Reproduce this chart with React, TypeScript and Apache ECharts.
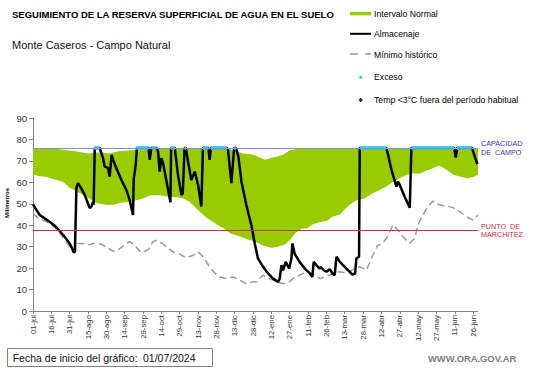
import React, { useEffect, useRef } from "react";
import * as echarts from "echarts";

// Etiquetas del eje X (cada 15 días desde 01-jul-2024)
const xLabels = [
  "01-jul", "16-jul", "31-jul", "15-ago", "30-ago", "14-sep", "29-sep", "14-oct", "29-oct",
  "13-nov", "28-nov", "13-dic", "28-dic", "12-ene", "27-ene", "11-feb", "26-feb", "13-mar",
  "28-mar", "12-abr", "27-abr", "12-may", "27-may", "11-jun", "26-jun",
];

const capacidadCampo = 76;
const puntoMarchitez = 37.5;

// Intervalo normal: borde superior [día, mm]
const normalUpper: [number, number][] = [
  [0, 76], [20, 75.5], [35, 74.5], [45, 73.5], [55, 74], [62, 73.5], [70, 74.5], [80, 75],
  [90, 75.3], [100, 75.6], [140, 75.7], [160, 75.5], [166, 74.5], [172, 73.5], [180, 73],
  [186, 71.5], [190, 70.5], [195, 71.5], [200, 72], [205, 73], [210, 75], [218, 75.8],
  [240, 75.8], [364, 76],
];

// Intervalo normal: borde inferior [día, mm]
const normalLower: [number, number][] = [
  [0, 63.5], [5, 63], [11, 62.5], [20, 61], [25, 60], [30, 57.5], [35, 56], [40, 54.5],
  [46, 52.5], [52, 50.3], [60, 49.5], [66, 49.5], [72, 50.5], [80, 51], [90, 52.5], [96, 54],
  [104, 54], [112, 53.2], [118, 53], [123, 52.5], [128, 51], [136, 46.5], [142, 43.5],
  [150, 40.5], [156, 38.5], [162, 36], [169, 34.8], [175, 33.5], [181, 32.5], [188, 30.5],
  [195, 29.5], [200, 30], [206, 31], [210, 33], [215, 36.5], [220, 38.5], [224, 38.5],
  [229, 40.5], [235, 41.5], [240, 42], [245, 44], [251, 45], [255, 47.5], [259, 49.5],
  [265, 51.8], [271, 52.5], [278, 54.9], [284, 56.5], [289, 58], [295, 60.4], [300, 61.9],
  [306, 63.5], [311, 64.2], [316, 64], [322, 65.5], [327, 66.6], [332, 67.8], [338, 66],
  [344, 63.5], [349, 62.7], [355, 61.9], [360, 62.5], [364, 63.5],
];

// Almacenaje [día, mm]
const almacenaje: [number, number][] = [
  [0, 49.7], [3, 47], [5.5, 44.8], [9.5, 43.2], [13.6, 41.6], [17.7, 39.8], [21.8, 37.3],
  [25.9, 34.6], [30, 31.5], [31.4, 29.9], [33.3, 27.3], [34.3, 27.6],
  [35.5, 57.5], [36.8, 59.6], [39.5, 57.2], [42.3, 54.1], [46.4, 48], [47.7, 48.7], [49, 50.7],
  [49.6, 49.5], [50.5, 76], [54.5, 76], [57.3, 71.3], [58.6, 67.4], [61.4, 66.6], [62.7, 62.7],
  [64.3, 72.8], [65.5, 70.5], [68.2, 66.6], [72.3, 61.1], [76.4, 56.4], [79.1, 51.8],
  [81.8, 44.8], [82.4, 61.5], [84, 68], [85, 76],
  [94.5, 76], [95.5, 70.5], [96.8, 76], [101, 76], [102.3, 74.4], [103.6, 65], [105, 71.3],
  [106.4, 68.9], [109, 61.1], [112.4, 50.7], [113, 76], [116, 76], [118.6, 63.5],
  [121.4, 54.1], [122.5, 54.8], [124, 76], [125, 76], [126.8, 69.7], [129.5, 61.1],
  [132.3, 65], [135, 58.8], [137.7, 48.7], [139, 76], [143.5, 76], [144.5, 70.5], [145.5, 76],
  [158.5, 76], [159.5, 75.2], [162.3, 59.6], [164.5, 76], [166, 76], [168, 72], [170.5, 60.4],
  [174.5, 49.4], [178.6, 40.1], [181.4, 31.5], [184, 24.5], [188.2, 20.6], [192.3, 17.5],
  [196.4, 15.1], [200.5, 13.6], [201.8, 15.1], [203.2, 21.4], [204.5, 19], [206.7, 22.9],
  [209.5, 19.8], [211.4, 24.5], [212.2, 31.5], [214, 26.8], [218, 22.9], [222.3, 19.8],
  [226.4, 17.5], [228.5, 15.9], [229.6, 22.9], [231.8, 21.4], [234.5, 19.8], [235.5, 20.5],
  [237.8, 19], [240, 18.3], [242.7, 19.5], [245, 17.5], [246.8, 16.7], [248.2, 25.3],
  [251, 22.9], [255, 20.6], [259, 18.3], [261.3, 17], [263.5, 17.5], [264.5, 24.5],
  [266.7, 25.3], [267.3, 76], [289, 76], [290.5, 72.8], [293.2, 65.8], [296, 60.4],
  [297.3, 58], [298.6, 60.4], [300, 58.8], [304, 53.3], [308.2, 48.2], [309.5, 76],
  [344.5, 76], [345.8, 71.6], [347, 76], [359, 76], [360, 74.4], [362.7, 69.7], [363.5, 68.5],
];

// Mínimo histórico [día, mm]
const minimoHistorico: [number, number][] = [
  [0, 45.5], [5, 43], [13.6, 40.9], [20, 38], [24.5, 34.2], [31.4, 29.2], [33.3, 27.6],
  [36.8, 31.5], [41, 31.5], [45, 30.7], [49, 31.5], [52, 31.8], [56, 31], [60, 29.9], [65, 28],
  [68, 27.9], [72, 29.5], [76, 31.5], [79, 32.3], [83, 31], [87, 28], [90, 27.3], [95, 29],
  [98, 32.3], [101, 33], [106, 31.5], [110, 29.5], [114.5, 27.6], [120, 26.5], [125.5, 24.8],
  [131, 26], [135, 27.6], [139, 25.3], [144.5, 20.6], [149, 17.5], [152.7, 15.9], [158, 15.1],
  [163.6, 15.9], [169, 14.4], [174.5, 12.8], [180, 13.6], [183, 13.6], [188, 16.7],
  [193.6, 15.1], [199, 13.6], [204.5, 12.8], [208, 12.8], [212.7, 15.1], [218, 16.7],
  [223.6, 18.3], [229, 17.5], [234.5, 15.1], [242.7, 16.7], [248, 18.3], [255, 18],
  [259, 18.3], [264.5, 20.6], [268, 20.5], [272.7, 19], [278, 26], [282, 30.7], [285, 31],
  [289, 33.8], [294.5, 40.1], [298.6, 37.7], [302.7, 34.6], [308, 31.5], [312, 33.8],
  [316, 41.7], [322, 47.9], [327, 51.3], [332.7, 49.4], [338, 49], [343.6, 48.2], [349, 46.3],
  [354.5, 44], [360, 42.4], [364, 44.8],
];

// Días con exceso (rangos [inicio, fin])
const excesoRanges: [number, number][] = [
  [50, 54.5], [84.5, 94.5], [96.8, 101], [112.6, 116], [123.8, 125.2], [139, 143.5],
  [145.5, 158.5], [164.3, 166], [267.5, 289], [309.5, 344.5], [346.8, 358.8],
];

const FONT = "Liberation Sans, Arial, sans-serif";

export default function App() {
  const ref = useRef<HTMLDivElement>(null);

  useEffect(() => {
    if (!ref.current) return;
    const chart = echarts.init(ref.current, undefined, { renderer: "svg" });

    const excesoData: any[] = [];
    excesoRanges.forEach(([s, e]) => {
      excesoData.push([s, capacidadCampo]);
      excesoData.push([e, capacidadCampo]);
      excesoData.push([e, "-"]);
    });

    const legendX = 350;
    const legendTextX = 374;

    const option: any = {
      animation: false,
      backgroundColor: "#ffffff",
      textStyle: { fontFamily: FONT },
      grid: { left: 33, right: 63, top: 118, bottom: 57, containLabel: false },
      xAxis: {
        type: "value",
        min: 0,
        max: 364,
        interval: 15,
        axisLine: { show: true, lineStyle: { color: "#868686", width: 1 } },
        axisTick: { show: true, length: 3, lineStyle: { color: "#868686" } },
        splitLine: { show: false },
        axisLabel: {
          rotate: 90,
          fontSize: 7.8,
          color: "#333",
          margin: 4,
          fontFamily: FONT,
          showMaxLabel: false,
          formatter: (v: number) => (v % 15 === 0 ? xLabels[v / 15] ?? "" : ""),
        },
      },
      yAxis: {
        type: "value",
        min: 0,
        max: 90,
        interval: 10,
        axisLine: { show: true, lineStyle: { color: "#868686", width: 1 } },
        axisTick: { show: true, length: 4, lineStyle: { color: "#868686" } },
        splitLine: { show: false },
        axisLabel: { fontSize: 9.5, color: "#333", margin: 6, fontFamily: FONT },
      },
      series: [
        {
          type: "custom",
          name: "Intervalo Normal",
          coordinateSystem: "cartesian2d",
          data: [[0, 0]],
          silent: true,
          z: 1,
          renderItem: (_params: any, api: any) => {
            const pts: number[][] = [];
            normalUpper.forEach((p) => pts.push(api.coord(p)));
            for (let i = normalLower.length - 1; i >= 0; i--) pts.push(api.coord(normalLower[i]));
            return { type: "polygon", shape: { points: pts }, style: { fill: "#99CC00" } };
          },
        },
        {
          type: "line",
          name: "Mínimo histórico",
          data: minimoHistorico,
          symbol: "none",
          z: 2,
          lineStyle: { color: "#9A9A9A", width: 1.5, type: [7, 4] },
          markLine: {
            silent: true,
            symbol: ["none", "none"],
            data: [
              {
                yAxis: capacidadCampo,
                lineStyle: { color: "#7A93D8", width: 1, type: "solid" },
                label: {
                  show: true,
                  position: "end",
                  formatter: "CAPACIDAD\nDE  CAMPO",
                  color: "#3535C0",
                  fontSize: 7.2,
                  lineHeight: 9,
                  distance: 3,
                  fontFamily: FONT,
                },
              },
              {
                yAxis: puntoMarchitez,
                lineStyle: { color: "#C03A3A", width: 1, type: "solid" },
                label: {
                  show: true,
                  position: "end",
                  formatter: "PUNTO  DE\nMARCHITEZ",
                  color: "#D03045",
                  fontSize: 7.2,
                  lineHeight: 8,
                  distance: 3,
                  fontFamily: FONT,
                },
              },
            ],
          },
        },
        {
          type: "line",
          name: "Almacenaje",
          data: almacenaje,
          symbol: "none",
          z: 3,
          lineStyle: { color: "#000000", width: 2.5 },
        },
        {
          type: "line",
          name: "Exceso",
          data: excesoData,
          symbol: "none",
          connectNulls: false,
          z: 4,
          lineStyle: { color: "#33CCFF", width: 3.5, cap: "butt" },
        },
      ],
      graphic: [
        {
          type: "text",
          left: 12,
          top: 9,
          style: {
            text: "SEGUIMIENTO DE LA RESERVA SUPERFICIAL DE AGUA EN EL SUELO",
            font: `bold 9.5px ${FONT}`,
            fill: "#000",
          },
        },
        {
          type: "text",
          left: 12,
          top: 39,
          style: { text: "Monte Caseros - Campo Natural", font: `11px ${FONT}`, fill: "#111" },
        },
        // leyenda
        { type: "rect", shape: { x: legendX, y: 11.8, width: 21, height: 3.6 }, style: { fill: "#99CC00" } },
        { type: "text", x: legendTextX, y: 13.5, style: { text: "Intervalo Normal", font: `8.7px ${FONT}`, fill: "#000", verticalAlign: "middle" } },
        { type: "line", shape: { x1: legendX, y1: 33.8, x2: legendX + 21, y2: 33.8 }, style: { stroke: "#000", lineWidth: 2 } },
        { type: "text", x: legendTextX, y: 34, style: { text: "Almacenaje", font: `8.7px ${FONT}`, fill: "#000", verticalAlign: "middle" } },
        { type: "line", shape: { x1: legendX, y1: 54, x2: legendX + 21, y2: 54 }, style: { stroke: "#9A9A9A", lineWidth: 1.3, lineDash: [8, 7] } },
        { type: "text", x: legendTextX, y: 54.5, style: { text: "Mínimo histórico", font: `8.7px ${FONT}`, fill: "#000", verticalAlign: "middle" } },
        { type: "circle", shape: { cx: 360.7, cy: 77.3, r: 1.6 }, style: { fill: "#33CCFF" } },
        { type: "text", x: legendTextX, y: 77.3, style: { text: "Exceso", font: `8.7px ${FONT}`, fill: "#000", verticalAlign: "middle" } },
        { type: "polygon", shape: { points: [[360.7, 97.8], [362.9, 100], [360.7, 102.2], [358.5, 100]] }, style: { fill: "#1A1AA0" } },
        { type: "text", x: legendTextX, y: 100, style: { text: "Temp <3°C fuera del período habitual", font: `8.7px ${FONT}`, fill: "#000", verticalAlign: "middle" } },
        // nombre eje Y
        {
          type: "text",
          x: 7,
          y: 203,
          rotation: Math.PI / 2,
          style: { text: "Milímetros", font: `bold 6px ${FONT}`, fill: "#000", align: "center", verticalAlign: "middle" },
        },
        // caja fecha
        { type: "rect", shape: { x: 7.5, y: 348.5, width: 205, height: 18 }, style: { fill: "none", stroke: "#8B7B7B", lineWidth: 1 } },
        { type: "text", x: 12.7, y: 358, style: { text: "Fecha de inicio del gráfico:", font: `10.5px ${FONT}`, fill: "#111", verticalAlign: "middle" } },
        { type: "text", x: 143, y: 358, style: { text: "01/07/2024", font: `10.5px ${FONT}`, fill: "#111", verticalAlign: "middle" } },
        { type: "text", x: 428, y: 358, style: { text: "WWW.ORA.GOV.AR", font: `bold 9.4px ${FONT}`, fill: "#808080", verticalAlign: "middle" } },
      ],
    };

    chart.setOption(option);
    return () => chart.dispose();
  }, []);

  return (
    <div
      ref={ref}
      style={{ position: "fixed", left: 0, top: 0, width: 541, height: 368, background: "#fff" }}
    />
  );
}
